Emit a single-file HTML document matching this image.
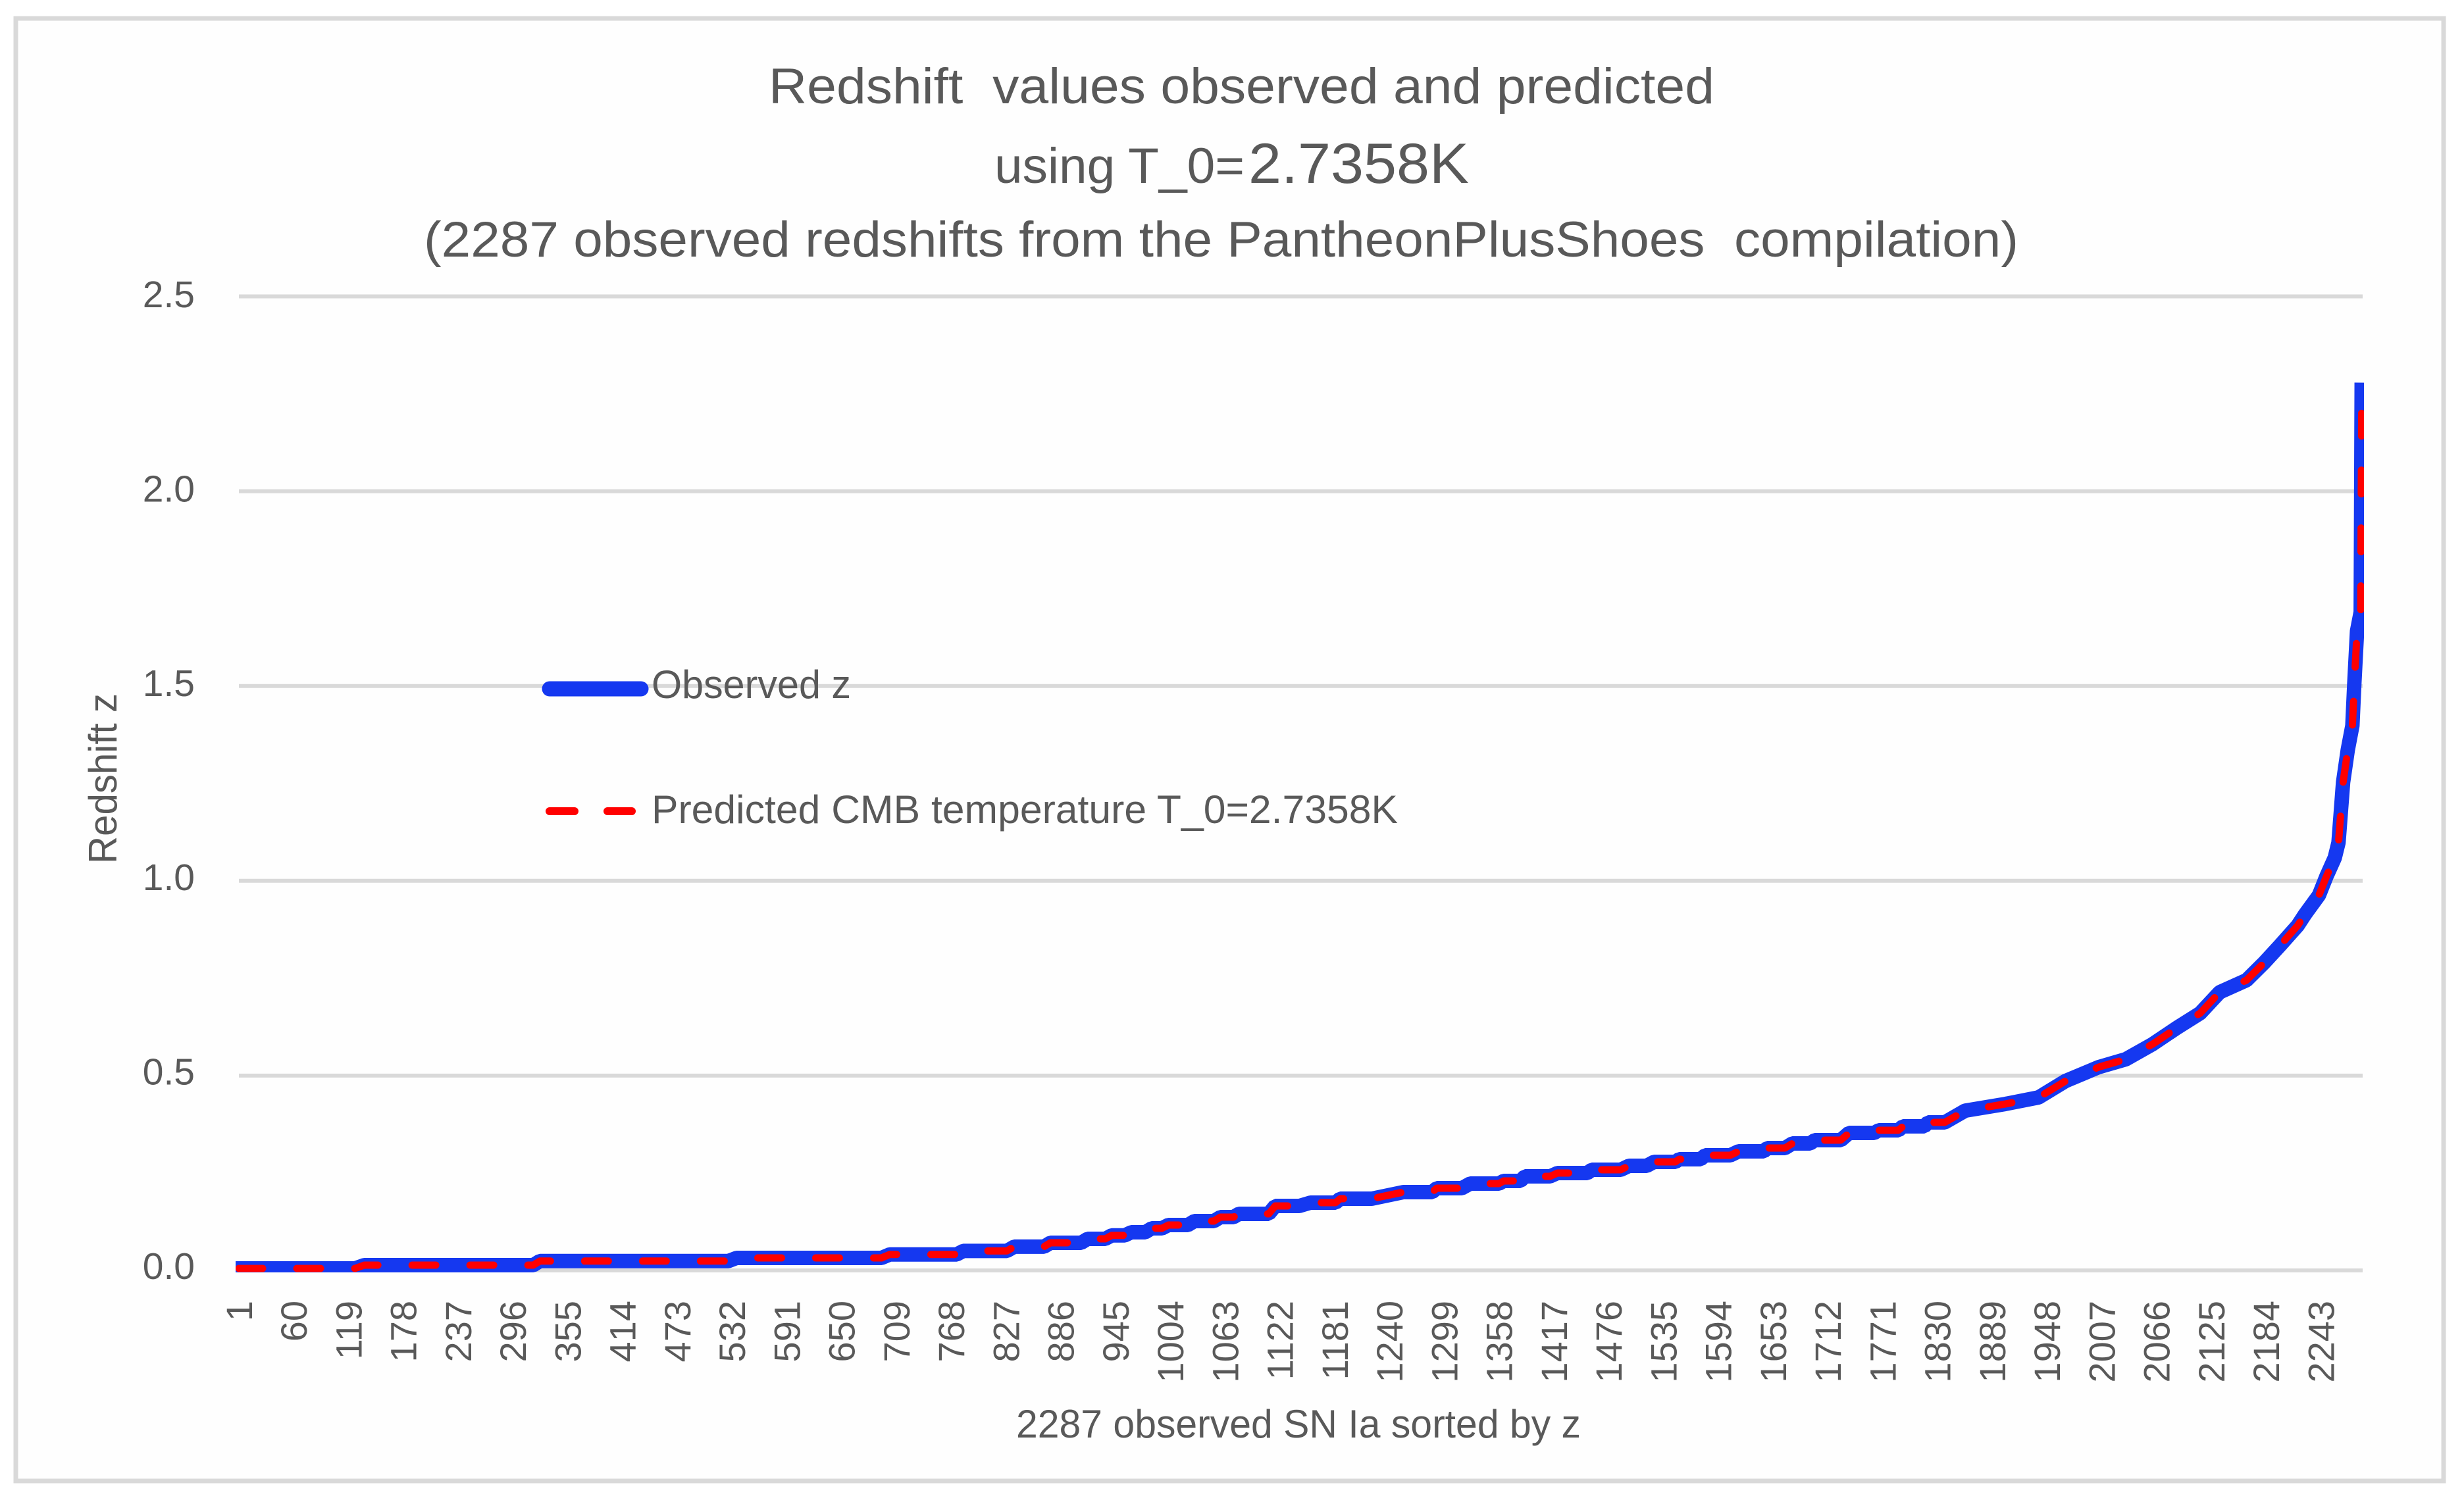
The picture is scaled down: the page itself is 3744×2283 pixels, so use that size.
<!DOCTYPE html>
<html lang="en">
<head>
<meta charset="utf-8">
<title>Redshift values observed and predicted</title>
<style>
html,body{margin:0;padding:0;background:#fff;width:3744px;height:2283px;overflow:hidden}
svg{display:block}
text{font-family:"Liberation Sans",sans-serif;fill:#595959;white-space:pre}
</style>
</head>
<body>
<svg id="chart" xmlns="http://www.w3.org/2000/svg" width="3744" height="2283" viewBox="0 0 3744 2283">
  <defs>
    <clipPath id="plot-clip"><rect x="358" y="400" width="3234" height="1534"/></clipPath>
  </defs>
  <rect x="0" y="0" width="3744" height="2283" fill="#ffffff"/>
  <rect x="24" y="28" width="3689" height="2223" fill="#fefefe" stroke="#d9d9d9" stroke-width="7"/>

  <g id="grid"></g>
  <g id="y-ticks"></g>
  <g id="x-ticks"></g>

  <text x="1168" y="157" font-size="76" textLength="1437" lengthAdjust="spacingAndGlyphs">Redshift  values observed and predicted</text>
  <text x="1511" y="278" font-size="76" textLength="380" lengthAdjust="spacingAndGlyphs">using T_0=</text>
  <text x="1897" y="278" font-size="86" textLength="335" lengthAdjust="spacingAndGlyphs">2.7358K</text>
  <text x="644" y="390" font-size="76" textLength="2423" lengthAdjust="spacingAndGlyphs">(2287 observed redshifts from the PantheonPlusShoes  compilation)</text>

  <text transform="translate(177,1313) rotate(-90)" x="0" y="0" font-size="60" textLength="259" lengthAdjust="spacingAndGlyphs">Redshift z</text>
  <text x="1544" y="2185" font-size="60" textLength="858" lengthAdjust="spacingAndGlyphs">2287 observed SN Ia sorted by z</text>

  <g id="series" clip-path="url(#plot-clip)"></g>

  <g>
    <line x1="835" y1="1047" x2="974" y2="1047" stroke="#1538f0" stroke-width="23" stroke-linecap="round"/>
    <text x="990" y="1061" font-size="60" textLength="303" lengthAdjust="spacingAndGlyphs">Observed z</text>
    <line x1="835" y1="1233" x2="960" y2="1233" stroke="#ff0000" stroke-width="12" stroke-linecap="round" stroke-dasharray="38 50"/>
    <text x="990" y="1251" font-size="60" textLength="1134" lengthAdjust="spacingAndGlyphs">Predicted CMB temperature T_0=2.7358K</text>
  </g>
</svg>
<script>
const yTickValues = [0, 0.5, 1, 1.5, 2, 2.5];
const yTickLabels = ["0.0", "0.5", "1.0", "1.5", "2.0", "2.5"];
const xTickLabels = [1, 60, 119, 178, 237, 296, 355, 414, 473, 532, 591, 650, 709, 768, 827, 886, 945, 1004, 1063, 1122, 1181, 1240, 1299, 1358, 1417, 1476, 1535, 1594, 1653, 1712, 1771, 1830, 1889, 1948, 2007, 2066, 2125, 2184, 2243];
const snIndex = [1, 126, 136, 318, 325, 528, 537, 693, 702, 774, 781, 828, 836, 868, 875, 908, 915, 934, 941, 955, 962, 977, 984, 995,
  1002, 1023, 1030, 1051, 1058, 1072, 1078, 1110, 1117, 1143, 1155, 1182, 1187, 1221, 1255, 1286, 1291, 1318, 1327, 1358, 1363, 1381, 1386, 1413, 1421, 1453, 1458, 1489, 1498, 1517, 1525, 1548, 1552, 1575, 1580, 1607, 1616, 1643, 1647, 1666, 1674, 1693, 1698, 1726, 1735, 1762, 1767, 1788, 1793, 1816, 1820, 1838,
  1860, 1903, 1939, 1968, 2004, 2033, 2062, 2087, 2113, 2134, 2163, 2182, 2199, 2218, 2226,
  2241, 2249, 2258, 2262, 2267, 2272, 2277, 2279, 2282, 2286, 2287];
const observedZ = [0.005, 0.005, 0.0135, 0.0135, 0.024, 0.024, 0.032, 0.032, 0.041, 0.041, 0.05, 0.05, 0.061, 0.061, 0.071, 0.071, 0.081, 0.081, 0.09, 0.09, 0.098, 0.098, 0.108, 0.108,
  0.1165, 0.1165, 0.1266, 0.1266, 0.1368, 0.1368, 0.1452, 0.1452, 0.1655, 0.1655, 0.1739, 0.1739, 0.1841, 0.1841, 0.2009, 0.2009, 0.2111, 0.2111, 0.2229, 0.2229, 0.2297, 0.2297, 0.2415, 0.2415, 0.2499, 0.2499, 0.2584, 0.2584, 0.2685, 0.2685, 0.2786, 0.2786, 0.2854, 0.2854, 0.2955, 0.2955, 0.3056, 0.3056, 0.3141, 0.3141, 0.3259, 0.3259, 0.3343, 0.3343, 0.3529, 0.3529, 0.3597, 0.3597, 0.3698, 0.3698, 0.3799, 0.3799,
  0.41, 0.427, 0.444, 0.486, 0.522, 0.542, 0.581, 0.621, 0.66, 0.714, 0.745, 0.79, 0.834, 0.885, 0.914,
  0.963, 1.011, 1.059, 1.098, 1.253, 1.336, 1.398, 1.505, 1.641, 1.69, 2.26];
const predictedZ = [0.005, 0.005, 0.0135, 0.0135, 0.024, 0.024, 0.032, 0.032, 0.041, 0.041, 0.05, 0.05, 0.061, 0.061, 0.071, 0.071, 0.081, 0.081, 0.09, 0.09, 0.098, 0.098, 0.108, 0.108,
  0.1165, 0.1165, 0.1266, 0.1266, 0.1368, 0.1368, 0.1452, 0.1452, 0.1655, 0.1655, 0.1739, 0.1739, 0.1841, 0.1841, 0.2009, 0.2009, 0.2111, 0.2111, 0.2229, 0.2229, 0.2297, 0.2297, 0.2415, 0.2415, 0.2499, 0.2499, 0.2584, 0.2584, 0.2685, 0.2685, 0.2786, 0.2786, 0.2854, 0.2854, 0.2955, 0.2955, 0.3056, 0.3056, 0.3141, 0.3141, 0.3259, 0.3259, 0.3343, 0.3343, 0.3529, 0.3529, 0.3597, 0.3597, 0.3698, 0.3698, 0.3799, 0.3799,
  0.41, 0.427, 0.444, 0.486, 0.522, 0.542, 0.581, 0.621, 0.66, 0.714, 0.745, 0.79, 0.834, 0.885, 0.914,
  0.963, 1.011, 1.059, 1.098, 1.253, 1.336, 1.398, 1.505, 1.641, 1.69, 2.2];

const NS = "http://www.w3.org/2000/svg";
function xScale(i) { return 363 + (i - 1) * 1.411; }
function yScale(z) { return 1931 - z * 592.2; }
function yLabelBaseline(z) { return 1944 - z * 590.8; }

const gridGroup = document.getElementById("grid");
const yTickGroup = document.getElementById("y-ticks");
yTickValues.forEach(function (v, k) {
  const line = document.createElementNS(NS, "line");
  line.setAttribute("x1", 363);
  line.setAttribute("x2", 3590);
  line.setAttribute("y1", yScale(v));
  line.setAttribute("y2", yScale(v));
  line.setAttribute("stroke", "#d9d9d9");
  line.setAttribute("stroke-width", 6);
  
  
  gridGroup.appendChild(line);

  const label = document.createElementNS(NS, "text");
  label.setAttribute("x", 296);
  label.setAttribute("y", yLabelBaseline(v));
  label.setAttribute("font-size", 57);
  label.setAttribute("text-anchor", "end");
  label.textContent = yTickLabels[k];
  
  
  yTickGroup.appendChild(label);
});

const xTickGroup = document.getElementById("x-ticks");
xTickLabels.forEach(function (t) {
  const label = document.createElementNS(NS, "text");
  label.setAttribute("transform", "translate(" + (xScale(t) + 20) + ",1977) rotate(-90)");
  label.setAttribute("font-size", 56);
  label.setAttribute("text-anchor", "end");
  label.textContent = String(t);
  
  
  xTickGroup.appendChild(label);
});

function pathFrom(indexes, values) {
  return indexes.map(function (i, k) {
    return (k ? "L" : "M") + xScale(i).toFixed(1) + " " + yScale(values[k]).toFixed(1);
  }).join(" ");
}

const seriesGroup = document.getElementById("series");

const observedLine = document.createElementNS(NS, "path");
observedLine.setAttribute("d", pathFrom(snIndex, observedZ));
observedLine.setAttribute("fill", "none");
observedLine.setAttribute("stroke", "#1538f0");
observedLine.setAttribute("stroke-width", 22);
observedLine.setAttribute("stroke-linejoin", "bevel");
observedLine.setAttribute("stroke-linecap", "square");


seriesGroup.appendChild(observedLine);

const predictedLine = document.createElementNS(NS, "path");
predictedLine.setAttribute("d", pathFrom(snIndex, predictedZ));
predictedLine.setAttribute("fill", "none");
predictedLine.setAttribute("stroke", "#ff0000");
predictedLine.setAttribute("stroke-width", 11);
predictedLine.setAttribute("stroke-linejoin", "round");
predictedLine.setAttribute("stroke-linecap", "round");
predictedLine.setAttribute("stroke-dasharray", "36 52");


seriesGroup.appendChild(predictedLine);
</script>
</body>
</html>
